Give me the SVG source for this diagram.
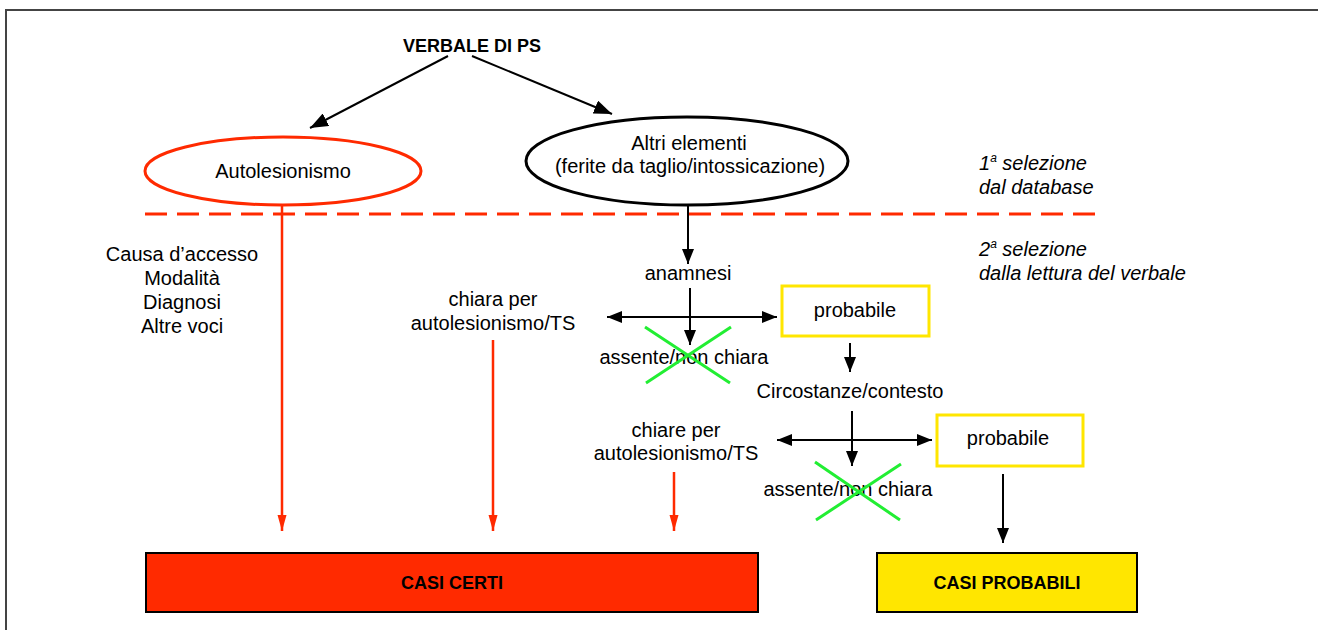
<svg xmlns="http://www.w3.org/2000/svg" width="1318" height="630" viewBox="0 0 1318 630">
<defs>
<style>
text{font-family:"Liberation Sans",Arial,sans-serif;font-size:20px;fill:#000;text-anchor:middle}
.b{font-weight:bold;font-size:18px}
.c{font-weight:bold;font-size:18px}
.it{font-style:italic;text-anchor:start}
.bk{stroke:#000;stroke-width:2;fill:none}
.rd{stroke:#ff2a00;stroke-width:2.5;fill:none}
.gx{stroke:#22ee33;stroke-width:3;fill:none}
.yb{fill:#fff;stroke:#ffe600;stroke-width:3}
</style>
<marker id="ab" markerUnits="userSpaceOnUse" markerWidth="16" markerHeight="12" refX="15" refY="6" orient="auto-start-reverse"><path d="M0,0 L15,6 L0,12 z" fill="#000"/></marker>
<marker id="ab2" markerUnits="userSpaceOnUse" markerWidth="19" markerHeight="14" refX="18" refY="7" orient="auto"><path d="M0,0 L18,7 L0,14 z" fill="#000"/></marker>
<marker id="ar" markerUnits="userSpaceOnUse" markerWidth="17" markerHeight="10" refX="16" refY="4.5" orient="auto"><path d="M0,0 L16,4.5 L0,9 z" fill="#ff2a00"/></marker>
</defs>
<rect width="1318" height="630" fill="#fff"/>
<g id="frame"><path d="M6,630 V10 H1318" fill="none" stroke="#444" stroke-width="2"/></g>

<g id="connectors">
<line class="bk" x1="448" y1="56" x2="310" y2="128" stroke-width="1.6" marker-end="url(#ab2)"/>
<line class="bk" x1="472" y1="56" x2="612" y2="114" stroke-width="1.6" marker-end="url(#ab2)"/>
<line x1="145" y1="214" x2="1097" y2="214" stroke="#ff2a00" stroke-width="3" stroke-dasharray="22,10"/>
<line class="rd" x1="282" y1="206" x2="282" y2="531" marker-end="url(#ar)"/>
<line class="rd" x1="493" y1="340" x2="493" y2="531" marker-end="url(#ar)"/>
<line class="rd" x1="674" y1="472" x2="674" y2="531" marker-end="url(#ar)"/>
<line class="bk" x1="688" y1="206" x2="688" y2="264" marker-end="url(#ab)"/>
<line class="bk" x1="690" y1="288" x2="690" y2="345" marker-end="url(#ab)"/>
<line class="bk" x1="607" y1="317" x2="777" y2="317" marker-start="url(#ab)" marker-end="url(#ab)"/>
<line class="bk" x1="850" y1="343" x2="850" y2="372" marker-end="url(#ab)"/>
<line class="bk" x1="852" y1="411" x2="852" y2="466" marker-end="url(#ab)"/>
<line class="bk" x1="777" y1="440" x2="932" y2="440" marker-start="url(#ab)" marker-end="url(#ab)"/>
<line class="bk" x1="1003" y1="474" x2="1003" y2="543" marker-end="url(#ab)"/>
</g>

<g id="verbale"><text class="b" x="472" y="52">VERBALE DI PS</text></g>

<g id="autolesionismo">
<ellipse cx="283" cy="171" rx="138" ry="34" fill="#fff" stroke="#ff2a00" stroke-width="3"/>
<text x="283" y="178">Autolesionismo</text>
</g>

<g id="altri">
<ellipse cx="687" cy="161" rx="161" ry="44" fill="#fff" stroke="#000" stroke-width="3"/>
<text x="689" y="150">Altri elementi</text>
<text x="690" y="173">(ferite da taglio/intossicazione)</text>
</g>

<g id="sel1"><text class="it" x="979" y="170">1<tspan font-size="12" dy="-8">a</tspan><tspan dy="8"> selezione</tspan></text>
<text class="it" x="979" y="194">dal database</text></g>

<g id="sel2"><text class="it" x="979" y="256">2<tspan font-size="12" dy="-8">a</tspan><tspan dy="8"> selezione</tspan></text>
<text class="it" x="979" y="280">dalla lettura del verbale</text></g>

<g id="voci">
<text x="182" y="261">Causa d’accesso</text>
<text x="182" y="285">Modalità</text>
<text x="182" y="309">Diagnosi</text>
<text x="182" y="333">Altre voci</text>
</g>

<g id="chiara1">
<text x="493" y="306">chiara per</text>
<text x="493" y="330">autolesionismo/TS</text>
</g>

<g id="anamnesi"><text x="688" y="280">anamnesi</text></g>

<g id="probabile1">
<rect class="yb" x="782" y="286" width="147" height="50"/>
<text x="855" y="317">probabile</text>
</g>

<g id="assente1">
<text x="684" y="364">assente/non chiara</text>
<path class="gx" d="M645,327 L730,383 M731,327 L646,383"/>
</g>

<g id="circostanze"><text x="850" y="398">Circostanze/contesto</text></g>

<g id="chiare2">
<text x="676" y="437">chiare per</text>
<text x="676" y="460">autolesionismo/TS</text>
</g>

<g id="probabile2">
<rect class="yb" x="937" y="415" width="146" height="51"/>
<text x="1008" y="445">probabile</text>
</g>

<g id="assente2">
<text x="848" y="496">assente/non chiara</text>
<path class="gx" d="M815,462 L900,520 M901,464 L816,520"/>
</g>

<g id="casicerti">
<rect x="146" y="553" width="612" height="59" fill="#ff2a00" stroke="#000" stroke-width="2"/>
<text class="c" x="452" y="589">CASI CERTI</text>
</g>

<g id="casiprobabili">
<rect x="877" y="553" width="260" height="59" fill="#ffe600" stroke="#000" stroke-width="2"/>
<text class="c" x="1007" y="589">CASI PROBABILI</text>
</g>
</svg>
